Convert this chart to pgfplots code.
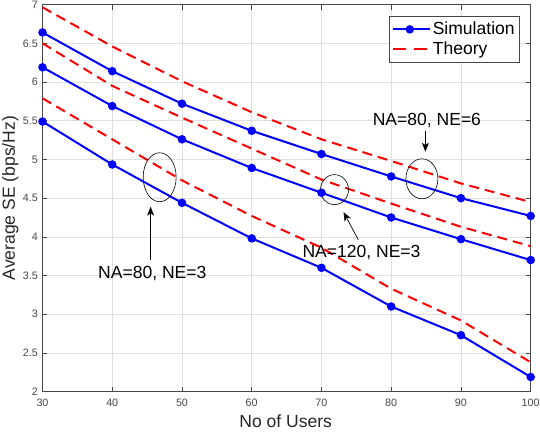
\documentclass[border=0pt]{standalone}
\usepackage{fontspec}
\setmainfont{Liberation Sans}
\usepackage{pgfplots}
\pgfplotsset{compat=1.18}
\usetikzlibrary{arrows.meta}
\definecolor{axgray}{RGB}{38,38,38}
\definecolor{gridgray}{RGB}{223,223,223}
\begin{document}
\begin{tikzpicture}
\begin{axis}[
  at={(0,0)}, anchor=south west,
  scale only axis, width=488.2bp, height=387.1bp,
  xmin=30, xmax=100, ymin=2, ymax=7,
  xtick={30,40,50,60,70,80,90,100},
  ytick={2,2.5,3,3.5,4,4.5,5,5.5,6,6.5,7},
  /pgf/number format/assume math mode=true,
  tick label style={font=\fontsize{10.8}{12}\selectfont, color=axgray!85},
  xticklabel style={yshift=-3.5bp},
  yticklabel style={xshift=-1.2bp},
  axis line style={color=axgray!85, line width=0.7bp},
  tick style={color=axgray!85, line width=0.6bp},
  major tick length=5bp,
  tick align=inside,
  xtick pos=both, ytick pos=both,
  grid=major,
  major grid style={color=gridgray, line width=0.5bp},
  xlabel={No of Users},
  ylabel={Average SE (bps/Hz)},
  every axis x label/.style={at={(axis description cs:0.498,-0.0757)}, anchor=center, font=\fontsize{17.6}{20}\selectfont, color=axgray},
  every axis y label/.style={at={(axis description cs:-0.066,0.5)}, rotate=90, anchor=center, font=\fontsize{17.6}{20}\selectfont, color=axgray},
  legend style={at={(rel axis cs:0.978,0.9706)}, anchor=north east,
    font=\fontsize{17.6}{21.6}\selectfont, draw=axgray!85, line width=0.6bp,
    inner xsep=3bp, inner ysep=4bp, row sep=1.5bp, cells={anchor=west}},
  legend image code/.code={\path (0bp,0bp) -- (37bp,0bp); \draw[mark repeat=2,mark phase=2,#1] plot coordinates {(0bp,0bp) (17bp,0bp) (34bp,0bp)};},
  sim/.style={color=blue, line width=2bp, mark=*, mark size=3.2bp, mark options={solid, fill=blue}},
  thy/.style={color=red, line width=2bp, dash pattern=on 10bp off 6bp},
]
% NA=80, NE=6 simulation
\addplot[sim] coordinates {(30,6.64) (40,6.14) (50,5.72) (60,5.37) (70,5.07) (80,4.78) (90,4.50) (100,4.27)};
\addlegendentry{Simulation}
\addplot[thy, legend image post style={dash pattern=on 13bp off 8bp}] coordinates {(30,6.965) (40,6.46) (50,6.01) (60,5.61) (70,5.26) (80,4.98) (90,4.69) (100,4.45)};
\addlegendentry{Theory}
% NA=120, NE=3
\addplot[sim, forget plot] coordinates {(30,6.19) (40,5.69) (50,5.26) (60,4.89) (70,4.57) (80,4.25) (90,3.97) (100,3.70)};
\addplot[thy, forget plot] coordinates {(30,6.50) (40,5.95) (50,5.54) (60,5.14) (70,4.74) (80,4.43) (90,4.13) (100,3.88)};
% NA=80, NE=3
\addplot[sim, forget plot] coordinates {(30,5.49) (40,4.935) (50,4.44) (60,3.98) (70,3.60) (80,3.10) (90,2.73) (100,2.19)};
\addplot[thy, forget plot] coordinates {(30,5.79) (40,5.26) (50,4.73) (60,4.27) (70,3.86) (80,3.33) (90,2.92) (100,2.38)};

% annotations
\draw[black, line width=0.6bp] (axis cs:46.8,4.77) ellipse [x radius=16.5bp, y radius=24.5bp];
\draw[black, line width=0.6bp] (axis cs:71.87,4.61) ellipse [x radius=14bp, y radius=15bp];
\draw[black, line width=0.6bp] (axis cs:84.4,4.75) ellipse [x radius=16bp, y radius=20bp];
\draw[black, line width=0.7bp, -{Stealth[length=9bp, width=7bp, inset=2.5bp]}] (axis cs:45.5,3.70) -- (axis cs:45.5,4.39);
\draw[black, line width=0.7bp, -{Stealth[length=9bp, width=7bp, inset=2.5bp]}] (axis cs:75.3,3.96) -- (axis cs:73.16,4.32);
\draw[black, line width=0.7bp, -{Stealth[length=9bp, width=7bp, inset=2.5bp]}] (axis cs:84.9,5.37) -- (axis cs:84.9,5.10);
\node[anchor=base, inner sep=0pt, font=\fontsize{17.6}{20}\selectfont] at (axis cs:45.75,3.459) {NA=80, NE=3};
\node[anchor=base, inner sep=0pt, font=\fontsize{17.6}{20}\selectfont] at (axis cs:75.74,3.731) {NA=120, NE=3};
\node[anchor=base, inner sep=0pt, font=\fontsize{17.6}{20}\selectfont] at (axis cs:85.12,5.442) {NA=80, NE=6};
\end{axis}
\pgfresetboundingbox
\path[use as bounding box] (-42.5bp,-40.3bp) rectangle (497.5bp,391.7bp);
\end{tikzpicture}
\end{document}
